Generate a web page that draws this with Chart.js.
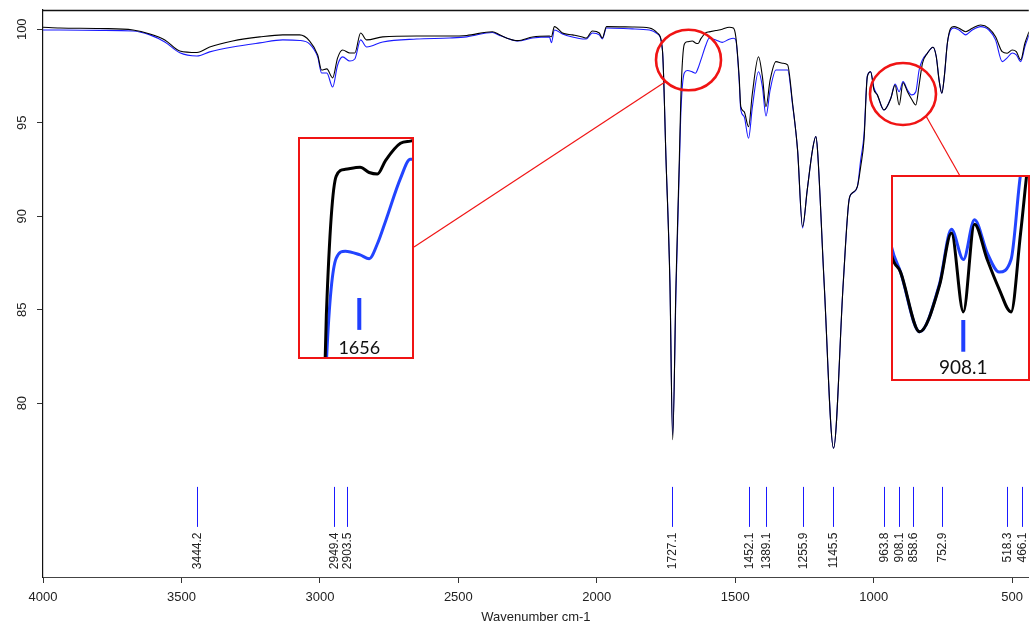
<!DOCTYPE html>
<html><head><meta charset="utf-8">
<script src="https://cdn.jsdelivr.net/npm/chart.js@4.4.1/dist/chart.umd.min.js"></script>
<style>
html,body{margin:0;padding:0;background:#fff;}
#wrap{position:relative;width:1030px;height:626px;overflow:hidden;background:#fff;}
#main{position:absolute;left:0;top:0;}
.inset{position:absolute;border:2px solid #f01414;background:#fff;box-sizing:border-box;}
.inset canvas{display:block;}
</style></head><body>
<div id="wrap">
<canvas id="main" width="1030" height="626"></canvas>
<div class="inset" style="left:298px;top:137px;width:116px;height:222px;"><canvas id="in1" width="112" height="218"></canvas></div>
<div class="inset" style="left:891px;top:175px;width:139px;height:206px;"><canvas id="in2" width="135" height="202"></canvas></div>
</div>
<script>
// ---------- data ----------
const wavenumbers = [4000,3939,3794,3675,3614,3560,3506,3444,3398,3315,3217,3134,3073,3037,3008,2994,2975,2954,2936,2918,2892,2874,2853,2831,2773,2651,2532,2470,2377,2351,2326,2286,2232,2171,2164,2153,2124,2088,2052,2038,2016,1991,1980,1965,1872,1810,1781,1763,1750,1736,1726,1714,1702,1696,1684,1673,1655,1644,1634,1624,1606,1594,1570,1547,1522,1507,1498,1486,1480,1468,1452,1438,1416,1402,1389,1374,1353,1329,1311,1293,1275,1257,1240,1221,1209,1203,1179,1145,1110,1089,1078,1059,1047,1035,1023,1011,999,987,963,938,923,908,894,878,863,848,836,824,806,786,774,764,754,745,734,722,710,692,668,644,614,584,560,536,518,500,485,469,454,439];
const blackT = [100.11,100.07,100.04,99.96,99.75,99.43,98.84,98.76,99.05,99.37,99.59,99.70,99.70,99.37,98.63,97.82,97.88,97.40,98.47,98.89,98.73,98.73,99.80,99.43,99.59,99.64,99.64,99.67,99.87,99.70,99.53,99.39,99.59,99.64,99.60,100.14,99.80,99.70,99.59,99.53,99.91,99.80,99.53,100.14,100.12,100.07,99.80,98.89,93.01,86.43,78.04,86.43,93.01,96.59,99.20,99.33,99.37,99.27,99.24,99.50,99.82,99.86,99.93,100.00,100.11,100.07,99.60,97.47,95.86,95.59,94.79,96.59,98.53,97.47,95.86,97.29,98.27,98.18,98.09,96.04,93.55,89.44,91.41,93.55,94.26,93.55,86.43,77.59,86.43,90.87,91.23,91.58,92.65,94.08,97.47,97.73,96.75,96.49,95.68,96.31,97.02,95.95,97.14,96.66,96.26,95.95,97.02,98.18,98.72,99.04,98.53,97.29,96.58,97.47,99.25,100.05,100.14,100.05,99.87,100.05,100.23,100.05,99.60,98.80,98.72,98.89,98.80,98.36,99.25,99.87];
const blueT = [99.96,99.96,99.94,99.91,99.70,99.32,98.74,98.57,98.79,99.05,99.27,99.43,99.40,99.21,98.52,97.66,97.66,96.91,98.09,98.52,98.30,98.41,99.43,99.05,99.32,99.48,99.53,99.59,99.83,99.67,99.53,99.37,99.53,99.59,99.28,99.96,99.75,99.59,99.48,99.48,99.80,99.70,99.48,100.07,100.02,99.96,99.75,98.89,93.01,86.60,78.30,86.00,92.60,95.68,97.66,97.79,97.72,97.65,97.93,98.36,99.16,99.52,99.43,99.30,99.47,99.52,99.43,97.29,95.68,95.33,94.17,95.86,97.73,96.93,95.36,96.75,97.82,97.82,97.82,95.95,93.55,89.37,91.41,93.55,94.26,93.55,86.43,77.59,86.43,90.87,91.23,91.58,93.01,94.35,97.50,97.72,96.86,96.49,95.68,96.33,97.07,96.66,97.20,96.75,96.49,96.66,97.82,98.36,98.72,99.04,98.53,97.29,96.58,97.47,99.25,99.96,100.07,99.96,99.70,99.96,100.14,99.96,99.43,98.27,98.47,98.73,98.63,98.27,99.07,99.70];
const peakPositions = [3444.2,2949.4,2903.5,1727.1,1452.1,1389.1,1255.9,1145.5,963.8,908.1,858.6,752.9,518.3,466.1];
const xTicks = [4000,3500,3000,2500,2000,1500,1000,500];
const yTicks = [100,95,90,85,80];
const xTitle = 'Wavenumber cm-1';
const inset1Label = 1656;
const inset2Label = 908.1;

// ---------- helpers ----------
const FONT = "'Liberation Sans', Arial, sans-serif";
Chart.defaults.font.family = FONT;
const toPoints = vals => wavenumbers.map((w, i) => ({x: w, y: vals[i]}));
const RED = '#f01414';

const peakPlugin = {
  id: 'peaks',
  afterDatasetsDraw(chart) {
    const {ctx, scales: {x, y}} = chart;
    ctx.save();
    ctx.strokeStyle = '#1a1aff';
    ctx.lineWidth = 1;
    ctx.fillStyle = '#222';
    ctx.font = '12px ' + FONT;
    const top = y.getPixelForValue(75.52), bot = y.getPixelForValue(73.38), lab = y.getPixelForValue(73.08);
    peakPositions.forEach(p => {
      const px = Math.round(x.getPixelForValue(p)) + 0.5;
      ctx.beginPath(); ctx.moveTo(px, top); ctx.lineTo(px, bot); ctx.stroke();
      ctx.save();
      ctx.translate(px, lab);
      ctx.rotate(-Math.PI / 2);
      ctx.textAlign = 'right';
      ctx.textBaseline = 'middle';
      ctx.fillText(p.toFixed(1), 0, 0);
      ctx.restore();
    });
    ctx.restore();
  }
};

const framePlugin = {
  id: 'frame',
  afterDraw(chart) {
    const {ctx, chartArea: a, scales: {y}} = chart;
    ctx.save();
    ctx.strokeStyle = '#111'; ctx.lineWidth = 1.3;
    ctx.beginPath(); ctx.moveTo(a.left, a.top + 0.5); ctx.lineTo(a.right, a.top + 0.5); ctx.stroke();
    ctx.fillStyle = '#222'; ctx.font = '13px ' + FONT;
    ctx.textAlign = 'center'; ctx.textBaseline = 'middle';
    yTicks.forEach(v => {
      ctx.save();
      ctx.translate(22.5, y.getPixelForValue(v));
      ctx.rotate(-Math.PI / 2);
      ctx.fillText(String(v), 0, 0);
      ctx.restore();
    });
    ctx.strokeStyle = RED;
    ctx.lineWidth = 2.6;
    ctx.beginPath(); ctx.ellipse(688.5, 60, 32.5, 30.3, 0, 0, Math.PI * 2); ctx.stroke();
    ctx.beginPath(); ctx.ellipse(903, 94, 33, 31, 0, 0, Math.PI * 2); ctx.stroke();
    ctx.lineWidth = 1.2;
    ctx.beginPath(); ctx.moveTo(665, 82); ctx.lineTo(414, 247); ctx.stroke();
    ctx.beginPath(); ctx.moveTo(926, 116); ctx.lineTo(960, 176); ctx.stroke();
    ctx.restore();
  }
};

new Chart(document.getElementById('main'), {
  type: 'line',
  data: {
    datasets: [
      {label: 'sample A', data: toPoints(blackT), borderColor: '#000', borderWidth: 1.1},
      {label: 'sample B', data: toPoints(blueT), borderColor: '#1a1aff', borderWidth: 1.1}
    ]
  },
  options: {
    responsive: false, animation: false, devicePixelRatio: 1, events: [],
    layout: {padding: {top: 10, right: 0, left: 0, bottom: 0}},
    elements: {point: {radius: 0}, line: {cubicInterpolationMode: 'monotone'}},
    plugins: {legend: {display: false}, tooltip: {enabled: false}},
    scales: {
      x: {
        type: 'linear', reverse: true, min: 440, max: 4000,
        afterBuildTicks: s => { s.ticks = xTicks.map(v => ({value: v})); },
        afterFit: s => { s.height = 49; },
        grid: {drawOnChartArea: false, drawTicks: true, tickLength: 6, color: '#333'},
        border: {display: true, color: '#444', width: 1},
        ticks: {font: {size: 13}, color: '#222', padding: 7, maxRotation: 0, autoSkip: false,
                callback: v => String(v)},
        title: {display: true, text: xTitle, font: {size: 13}, color: '#222', padding: {top: 2, bottom: 1}}
      },
      y: {
        type: 'linear', min: 70.7, max: 101.03,
        afterBuildTicks: s => { s.ticks = yTicks.map(v => ({value: v})); },
        afterFit: s => { s.width = 43; },
        grid: {drawOnChartArea: false, drawTicks: true, tickLength: 6, color: '#333'},
        border: {display: true, color: '#111', width: 1.2},
        ticks: {display: false}
      }
    }
  },
  plugins: [peakPlugin, framePlugin]
});

function markerPlugin(cfg) {
  return {
    id: 'marker',
    afterDatasetsDraw(chart) {
      const {ctx, scales: {x, y}} = chart;
      const px = x.getPixelForValue(cfg.mark);
      ctx.save();
      ctx.strokeStyle = '#1f3fff'; ctx.lineWidth = 4;
      ctx.beginPath(); ctx.moveTo(px, y.getPixelForValue(cfg.barTop)); ctx.lineTo(px, y.getPixelForValue(cfg.barBottom)); ctx.stroke();
      ctx.fillStyle = '#111';
      ctx.font = cfg.fontSize + "px Lato, 'Liberation Sans', sans-serif";
      ctx.textAlign = 'center'; ctx.textBaseline = 'middle';
      ctx.fillText(String(cfg.mark), px, y.getPixelForValue(cfg.textAt));
      ctx.restore();
    }
  };
}

function makeInset(id, cfg) {
  new Chart(document.getElementById(id), {
    type: 'line',
    data: {
      datasets: [
        {data: toPoints(blackT), borderColor: '#000', borderWidth: 3},
        {data: toPoints(blueT), borderColor: '#2244ff', borderWidth: 3}
      ]
    },
    options: {
      responsive: false, animation: false, devicePixelRatio: 1, events: [],
      layout: {padding: 0},
      elements: {point: {radius: 0}, line: {cubicInterpolationMode: 'monotone'}},
      plugins: {legend: {display: false}, tooltip: {enabled: false}},
      scales: {
        x: {type: 'linear', reverse: true, min: cfg.xMin, max: cfg.xMax, display: false},
        y: {type: 'linear', min: cfg.yMin, max: cfg.yMax, display: false}
      }
    },
    plugins: [markerPlugin(cfg)]
  });
}

makeInset('in1', {xMin: 1592, xMax: 1728, yMin: 95.8, yMax: 99.9,
  mark: inset1Label, barTop: 96.91, barBottom: 96.31, textAt: 95.97, fontSize: 18});
makeInset('in2', {xMin: 826.7, xMax: 996.5, yMin: 95.04, yMax: 97.78,
  mark: inset2Label, barTop: 95.84, barBottom: 95.41, textAt: 95.19, fontSize: 19});
</script>
</body></html>
